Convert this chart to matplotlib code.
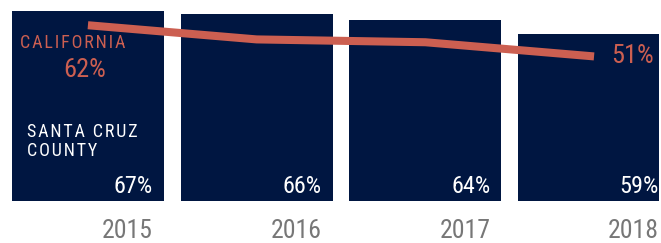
import matplotlib
matplotlib.use('Agg')
import matplotlib.pyplot as plt
from matplotlib.transforms import blended_transform_factory

years = ['2015', '2016', '2017', '2018']
santa_cruz = [67, 66, 64, 59]
california = [62, 57, 56, 51]

NAVY = '#001641'
RED = '#cc5f51'
GRAY = '#777777'

plt.rcParams['font.family'] = ['Roboto Condensed', 'DejaVu Sans']
plt.rcParams['font.stretch'] = 'condensed'


def spaced(s):
    # letter-spaced caps, as in the original labels
    return '\u200a'.join(s)


fig = plt.figure(figsize=(6.61, 2.43), dpi=100)
ax = fig.add_axes([12 / 661, 42 / 243, 647 / 661, 201 / 243])

x = list(range(len(years)))
ax.bar(x, santa_cruz, width=0.9, color=NAVY, zorder=1)
ax.plot(x, california, color=RED, lw=5.8, solid_capstyle='butt', zorder=2)

ax.set_xlim(-0.45, 3.385)
ax.set_ylim(0, 70.9)
ax.axis('off')

# value labels inside the bars
for i, v in enumerate(santa_cruz):
    ax.text(i + 0.385, 2.9, f'{v}%', color='white', fontsize=17.5,
            ha='right', va='baseline')

# year labels under the bars
trans = blended_transform_factory(ax.transData, ax.transAxes)
for i, yr in enumerate(years):
    ax.text(i + 0.385, -0.183, yr, color=GRAY, fontsize=18.5,
            ha='right', va='baseline', transform=trans)

# series labels
ax.text(-0.403, 53.9, spaced('CALIFORNIA'), color=RED, fontsize=13,
        ha='left', va='baseline')
ax.text(-0.148, 43.7, f'{california[0]}%', color=RED, fontsize=19,
        ha='left', va='baseline')
ax.text(3.356, 48.7, f'{california[-1]}%', color=RED, fontsize=19,
        ha='right', va='baseline')
ax.text(-0.363, 22.6, spaced('SANTA CRUZ'), color='white', fontsize=13,
        ha='left', va='baseline')
ax.text(-0.363, 15.9, spaced('COUNTY'), color='white', fontsize=13,
        ha='left', va='baseline')

fig.savefig('out.png', dpi=100)
